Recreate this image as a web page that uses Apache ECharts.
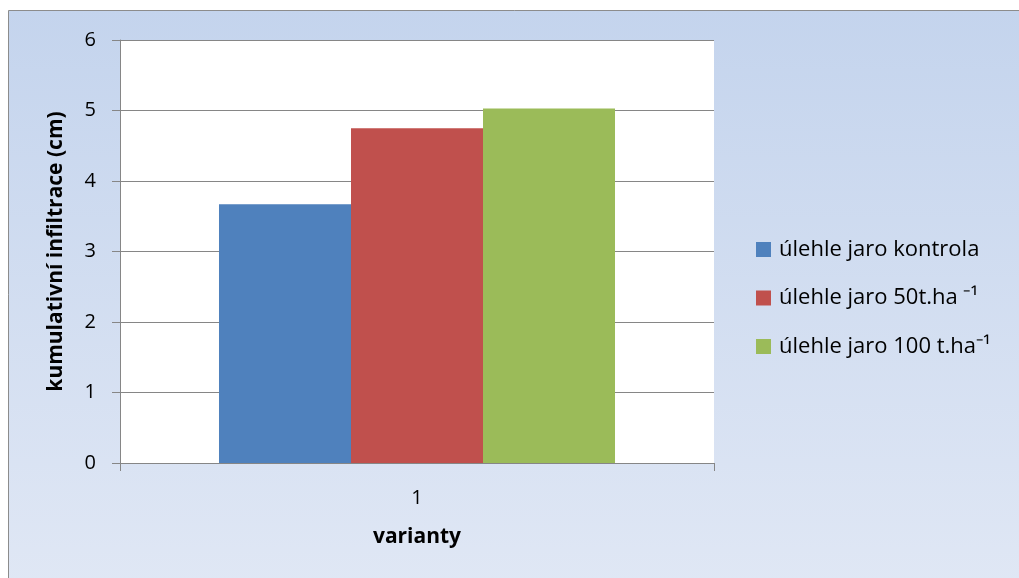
<!DOCTYPE html>
<html>
<head>
<meta charset="utf-8">
<style>
  html, body { margin: 0; padding: 0; background: #ffffff; }
  #chart { width: 1019px; height: 578px; }
</style>
<script src="https://cdn.jsdelivr.net/npm/echarts@6/dist/echarts.min.js"></script>
</head>
<body>
<div id="chart"></div>
<script>
// Cumulative infiltration for the spring tillage variants
const categories = ['1'];
const seriesNames = [
  'úlehle jaro kontrola',
  'úlehle jaro 50t.ha \u207B\u00B9',
  'úlehle jaro 100 t.ha\u207B\u00B9'
];
const kontrolaValues = [3.67];
const dose50Values = [4.75];
const dose100Values = [5.03];
const yTicks = { min: 0, max: 6, interval: 1 };

const colors = ['#4f81bd', '#c0504d', '#9bbb59'];
const seriesValues = [kontrolaValues, dose50Values, dose100Values];
const FONT = '"Open Sans", sans-serif';
const axisGray = '#868686';

const chart = echarts.init(document.getElementById('chart'), null, { renderer: 'canvas' });

chart.setOption({
  animation: false,
  textStyle: { fontFamily: FONT },
  graphic: [{
    type: 'rect',
    z: -10,
    silent: true,
    shape: { x: 8.5, y: 10.5, width: 1030, height: 600 },
    style: {
      fill: new echarts.graphic.LinearGradient(0, 0, 0, 1, [
        { offset: 0, color: '#c4d4ed' },
        { offset: 1, color: '#e1e8f5' }
      ]),
      stroke: '#8c8c8c',
      lineWidth: 1
    }
  }],
  grid: {
    left: 120, right: 305, top: 40, bottom: 115,
    show: true, backgroundColor: '#ffffff', borderWidth: 0
  },
  legend: {
    orient: 'vertical',
    left: 756,
    top: 238.5,
    padding: 0,
    itemWidth: 15,
    itemHeight: 15,
    itemGap: 26.5,
    icon: 'rect',
    data: seriesNames,
    textStyle: {
      fontFamily: FONT, fontSize: 22, color: '#000000',
      lineHeight: 22, padding: [0, 0, 0, 3]
    }
  },
  xAxis: {
    type: 'category',
    data: categories,
    name: 'varianty',
    nameLocation: 'middle',
    nameGap: 64,
    nameTextStyle: { fontFamily: FONT, fontSize: 21, fontWeight: 'bold', color: '#000000' },
    axisLine: { show: true, lineStyle: { color: axisGray, width: 1 } },
    axisTick: { show: true, length: 8, alignWithLabel: false, lineStyle: { color: axisGray } },
    axisLabel: { fontFamily: FONT, fontSize: 20, color: '#000000', margin: 25 },
    splitLine: { show: false }
  },
  yAxis: {
    type: 'value',
    min: yTicks.min,
    max: yTicks.max,
    interval: yTicks.interval,
    name: 'kumulativní infiltrace (cm)',
    nameLocation: 'middle',
    nameRotate: 90,
    nameGap: 53,
    nameTextStyle: { fontFamily: FONT, fontSize: 21, fontWeight: 'bold', color: '#000000' },
    axisLine: { show: true, lineStyle: { color: axisGray, width: 1 } },
    axisTick: { show: true, length: 8, lineStyle: { color: axisGray } },
    axisLabel: { fontFamily: FONT, fontSize: 20, color: '#000000', margin: 24 },
    splitLine: { show: true, lineStyle: { color: axisGray, width: 1 } }
  },
  series: seriesNames.map((name, i) => ({
    name: name,
    type: 'bar',
    data: seriesValues[i],
    barGap: '0%',
    barCategoryGap: '33.33%',
    itemStyle: { color: colors[i] }
  }))
});
</script>
</body>
</html>
